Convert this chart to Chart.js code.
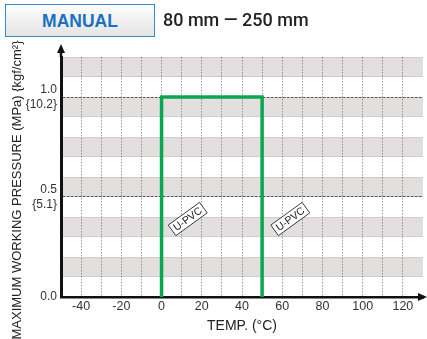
<!DOCTYPE html>
<html lang="en">
<head>
  <meta charset="UTF-8">
  <script src="https://cdn.jsdelivr.net/npm/chart.js"></script>
  <style>
    body { margin: 0; background: #fff; font-family: Arial, "Liberation Sans", sans-serif; }
    .wrap { position: relative; width: 427px; height: 339px; }
    #myChart { position: absolute; left: 0; top: 0; }
    .badge {
      position: absolute; left: 5px; top: 4px; width: 148px; height: 31px;
      border: 1px solid #3b86cc;
      background: linear-gradient(#fdfdfd, #e4e4e4);
      color: #1b70c1; font-weight: bold; font-size: 17.5px;
      line-height: 32px; text-align: center;
    }
    .size {
      position: absolute; left: 163px; top: 4px; line-height: 32px;
      font-family: Roboto, Arial, sans-serif;
      font-size: 18px; font-weight: 500; color: #222;
    }
  </style>
</head>
<body>
  <div class="wrap">
    <canvas id="myChart" width="427" height="339"></canvas>
    <div class="badge">MANUAL</div>
    <div class="size">80 mm — 250 mm</div>
  </div>
<script>
  // pressure/temperature curve for U-PVC
  const temps = [0, 0, 50, 50];
  const pressures = [0, 1.0, 1.0, 0];

  const xTicks = [-40, -30, -20, -10, 0, 10, 20, 30, 40, 50, 60, 70, 80, 90, 100, 110, 120];
  const yTicks = [0, 0.5, 1.0];
  const yTickLabels = { '0': '0.0', '0.5': ['0.5', '{5.1}'], '1': ['1.0', '{10.2}'] };

  // shaded bands [from, to]
  const bandsLow = [0.1, 0.3, 0.5, 0.7, 0.9, 1.1];
  const bandsHigh = [0.2, 0.4, 0.6, 0.8, 1.0, 1.2];

  const labelNames = ['U-PVC', 'U-PVC'];
  const labelTemps = [13, 64];
  const labelPress = [0.39, 0.39];

  const decor = {
    id: 'decor',
    beforeDraw(chart) {
      const { ctx, chartArea: a, scales: { y } } = chart;
      ctx.save();
      for (let i = 0; i < bandsLow.length; i++) {
        const t = y.getPixelForValue(bandsHigh[i]);
        const b = y.getPixelForValue(bandsLow[i]);
        ctx.fillStyle = '#e2dfde';
        ctx.fillRect(a.left, t, a.right - a.left, b - t);
        ctx.strokeStyle = '#cfcccb';
        ctx.lineWidth = 1;
        ctx.beginPath();
        ctx.moveTo(a.left, Math.round(t) + 0.5); ctx.lineTo(a.right, Math.round(t) + 0.5);
        ctx.moveTo(a.left, Math.round(b) - 0.5); ctx.lineTo(a.right, Math.round(b) - 0.5);
        ctx.stroke();
      }
      ctx.restore();
    },
    afterDraw(chart) {
      const { ctx, chartArea: a, scales: { x, y } } = chart;
      ctx.save();
      // axis arrows
      ctx.fillStyle = '#111';
      ctx.strokeStyle = '#111';
      ctx.lineWidth = 2.5;
      ctx.beginPath();
      ctx.moveTo(a.left, a.top); ctx.lineTo(a.left, 50);
      ctx.moveTo(a.right, a.bottom); ctx.lineTo(424, a.bottom);
      ctx.stroke();
      ctx.beginPath();
      ctx.moveTo(a.left, 44); ctx.lineTo(a.left - 4, 53); ctx.lineTo(a.left + 4, 53); ctx.closePath();
      ctx.moveTo(427, a.bottom); ctx.lineTo(418, a.bottom - 4); ctx.lineTo(418, a.bottom + 4); ctx.closePath();
      ctx.fill();

      // boxed labels
      ctx.font = '10.5px Arial';
      ctx.textAlign = 'center';
      ctx.textBaseline = 'middle';
      for (let i = 0; i < labelNames.length; i++) {
        const px = x.getPixelForValue(labelTemps[i]);
        const py = y.getPixelForValue(labelPress[i]);
        ctx.save();
        ctx.translate(px, py);
        ctx.rotate(-36 * Math.PI / 180);
        const w = ctx.measureText(labelNames[i]).width + 6;
        ctx.fillStyle = '#fff';
        ctx.fillRect(-w / 2, -6.5, w, 13);
        ctx.strokeStyle = '#222';
        ctx.lineWidth = 0.8;
        ctx.strokeRect(-w / 2, -6.5, w, 13);
        ctx.fillStyle = '#222';
        ctx.fillText(labelNames[i], 0, 0.5);
        ctx.restore();
      }

      // y axis title
      ctx.save();
      ctx.translate(17, 190);
      ctx.rotate(-Math.PI / 2);
      ctx.fillStyle = '#222';
      ctx.font = '13px Arial';
      ctx.textAlign = 'center';
      ctx.textBaseline = 'middle';
      ctx.fillText('MAXIMUM WORKING PRESSURE (MPa) {kgf/cm²}', 0, 0);
      ctx.restore();
      ctx.restore();
    }
  };

  const ctx = document.getElementById('myChart').getContext('2d');
  const chart = new Chart(ctx, {
    type: 'line',
    data: {
      datasets: [{
        data: temps.map((t, i) => ({ x: t, y: pressures[i] })),
        borderColor: '#0aa650',
        borderWidth: 3.5,
        pointRadius: 0,
        fill: false,
        tension: 0
      }]
    },
    options: {
      responsive: false,
      animation: false,
      layout: { padding: { top: 57, right: 4, left: 0, bottom: 0 } },
      plugins: { legend: { display: false }, tooltip: { enabled: false } },
      scales: {
        x: {
          type: 'linear',
          min: -50,
          max: 130,
          afterBuildTicks: s => { s.ticks = xTicks.map(v => ({ value: v })); },
          afterFit: s => { s.height = 42; },
          ticks: {
            autoSkip: false,
            maxRotation: 0,
            padding: 2,
            color: '#333',
            font: { family: 'Arial', size: 12.5 },
            callback: v => (v % 20 === 0 ? String(v) : '')
          },
          grid: { color: 'rgba(80,80,80,0.55)', drawTicks: false, lineWidth: 1 },
          border: { color: '#111', width: 2.5, dash: [1.5, 1.5] },
          title: { display: true, text: 'TEMP. (°C)', color: '#222', font: { family: 'Arial', size: 14 }, padding: { top: 2 } }
        },
        y: {
          min: 0,
          max: 1.2,
          afterBuildTicks: s => { s.ticks = yTicks.map(v => ({ value: v })); },
          afterFit: s => { s.width = 61; },
          ticks: {
            padding: 4,
            color: '#333',
            font: { family: 'Arial', size: 12 },
            callback: v => yTickLabels[String(v)]
          },
          grid: { color: '#555', drawTicks: false, lineWidth: 1 },
          border: { color: '#111', width: 3, dash: [2.5, 1.5] }
        }
      }
    },
    plugins: [decor]
  });
</script>
</body>
</html>
